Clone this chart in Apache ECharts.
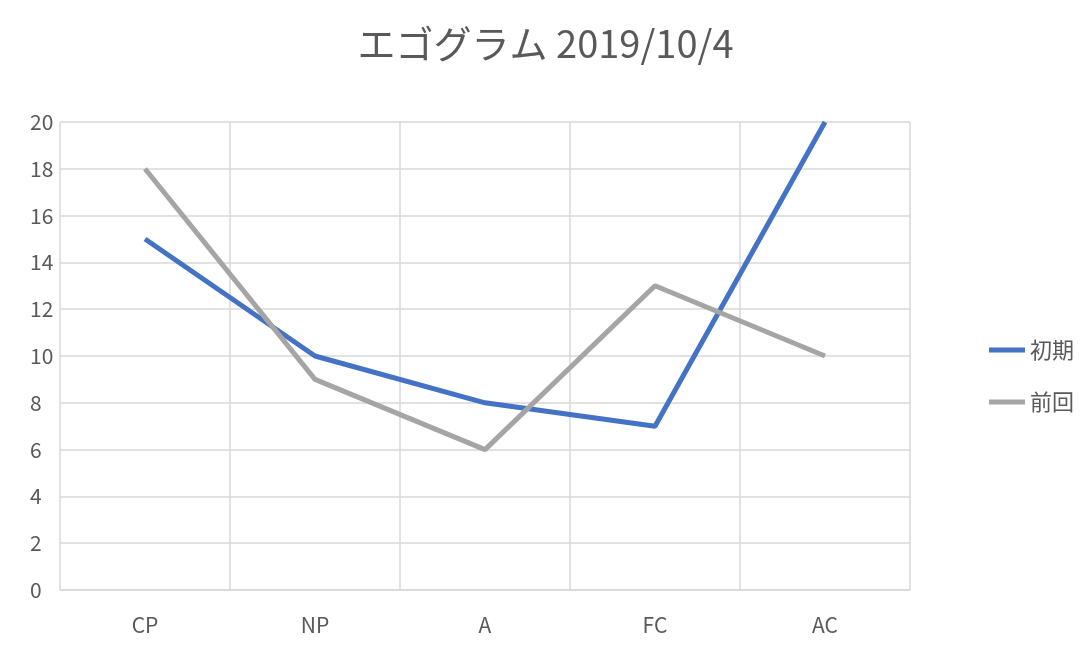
<!DOCTYPE html>
<html><head><meta charset="utf-8">
<script src="https://cdn.jsdelivr.net/npm/echarts@6/dist/echarts.min.js"></script>
<style>html,body{margin:0;padding:0;background:#fff}#c{width:1091px;height:656px}</style>
</head><body><div id="c"></div>
<script>
const categories = ['CP','NP','A','FC','AC'];
const initial = [15,10,8,7,20];
const previous = [18,9,6,13,10];
const yTicks = [0,2,4,6,8,10,12,14,16,18,20];
const font = '"Noto Sans CJK JP", Calibri, "Noto Sans", sans-serif';
const chart = echarts.init(document.getElementById('c'));
chart.setOption({
  animation:false,
  textStyle:{fontFamily:font},
  title:{text:'エゴグラム 2019/10/4',left:'center',top:20,textStyle:{fontSize:38,fontWeight:'normal',color:'#595959',fontFamily:font}},
  legend:{orient:'vertical',left:984,top:334,itemWidth:36,itemHeight:5,itemGap:30,
    textStyle:{fontSize:22,color:'#595959'},icon:'rect',data:['初期','前回']},
  grid:{left:60,right:181,top:122,bottom:66},
  xAxis:{type:'category',data:categories,boundaryGap:true,
    axisLine:{lineStyle:{color:'#d9d9d9',width:1.5}},axisTick:{show:false},
    axisLabel:{color:'#595959',fontSize:21,margin:25},
    splitLine:{show:true,lineStyle:{color:'#d9d9d9',width:1.5}}},
  yAxis:{type:'value',min:yTicks[0],max:yTicks[yTicks.length-1],interval:2,
    axisLine:{show:false},axisTick:{show:false},
    axisLabel:{color:'#595959',fontSize:21,margin:30,align:'left'},
    splitLine:{lineStyle:{color:'#d9d9d9',width:1.5}}},
  series:[
    {name:'初期',type:'line',data:initial,symbol:'none',lineStyle:{width:5,color:'#4472C4'},itemStyle:{color:'#4472C4'}},
    {name:'前回',type:'line',data:previous,symbol:'none',lineStyle:{width:5,color:'#A5A5A5'},itemStyle:{color:'#A5A5A5'}}
  ]
});
</script></body></html>
